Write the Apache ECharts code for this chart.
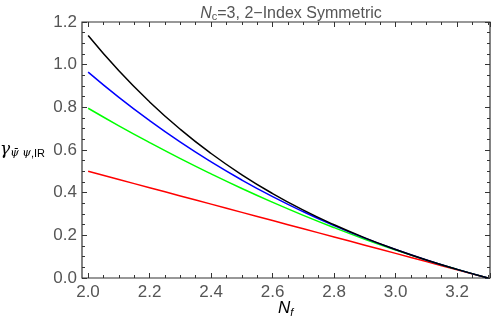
<!DOCTYPE html>
<html>
<head>
<meta charset="utf-8">
<script src="https://cdn.jsdelivr.net/npm/echarts@6/dist/echarts.min.js"></script>
<style>
html, body { margin: 0; padding: 0; background: #fff; }
#chart { width: 496px; height: 327px; }
</style>
</head>
<body>
<div id="chart"></div>
<script>
var nf = [2.0, 2.1, 2.2, 2.3, 2.4, 2.5, 2.6, 2.7, 2.8, 2.9, 3.0, 3.1, 3.2, 3.3];
// gamma values per curve (red, green, blue, black)
var redVals   = [0.500, 0.4615, 0.4231, 0.3846, 0.3462, 0.3077, 0.2692, 0.2308, 0.1923, 0.1538, 0.1154, 0.0769, 0.0385, 0];
var greenVals = [0.7958, 0.7135, 0.6349, 0.5596, 0.488, 0.4197, 0.355, 0.2938, 0.2361, 0.1818, 0.1312, 0.0839, 0.0403, 0];
var blueVals  = [0.965, 0.8466, 0.7374, 0.6366, 0.5441, 0.4591, 0.3814, 0.3104, 0.2457, 0.1867, 0.1333, 0.0845, 0.0404, 0];
var blackVals = [1.1364, 0.971, 0.8252, 0.6966, 0.5835, 0.4837, 0.3958, 0.3182, 0.2495, 0.1882, 0.1338, 0.0846, 0.0404, 0];

var frameColor = "#333";
var labelColor = "#555";

function pairs(vals) {
  return nf.map(function (x, i) { return [x, vals[i]]; });
}
function line(vals, color) {
  return {
    type: "line",
    xAxisIndex: 0,
    yAxisIndex: 0,
    data: pairs(vals),
    smooth: true,
    showSymbol: false,
    lineStyle: { color: color, width: 1.5 },
    silent: true,
    animation: false
  };
}

var myChart = echarts.init(document.getElementById("chart"));
var option = {
  animation: false,
  title: {
    text: "{i|N}{s|c}{t|=3, 2\u2212Index Symmetric}",
    left: 286,
    top: 0,
    textAlign: "center",
    textStyle: {
      fontWeight: "normal",
      rich: {
        i: { fontFamily: "Liberation Sans", fontStyle: "italic", fontWeight: "normal", fontSize: 16, color: labelColor },
        s: { fontFamily: "Liberation Sans", fontWeight: "normal", fontSize: 11, color: labelColor, verticalAlign: "bottom", padding: [6, 0, 0, 0] },
        t: { fontFamily: "Liberation Sans", fontWeight: "normal", fontSize: 16, color: labelColor }
      }
    }
  },
  grid: [
    { left: 82, top: 22, width: 408, height: 256, show: true, borderColor: frameColor, borderWidth: 1.2, backgroundColor: "transparent" },
    { left: 88, top: 22, width: 402, height: 256 }
  ],
  xAxis: [
    // data axis, padded like the original plot range
    { type: "value", gridIndex: 0, min: 1.98, max: 3.307, show: false },
    // tick axis starting at 2.0 (same scale)
    {
      type: "value", gridIndex: 1, position: "bottom", min: 2.0, max: 3.307, interval: 0.2,
      axisLine: { show: false },
      axisTick: { inside: true, length: 5, lineStyle: { color: frameColor } },
      minorTick: { show: true, splitNumber: 4, length: 3, lineStyle: { color: frameColor } },
      splitLine: { show: false },
      axisLabel: {
        showMaxLabel: false, margin: 6, color: labelColor, fontSize: 17, fontFamily: "Liberation Sans",
        formatter: function (v) { return v.toFixed(1); }
      }
    },
    {
      type: "value", gridIndex: 1, position: "top", min: 2.0, max: 3.307, interval: 0.2,
      axisLine: { show: false },
      axisTick: { inside: true, length: 5, lineStyle: { color: frameColor } },
      minorTick: { show: true, splitNumber: 4, length: 3, lineStyle: { color: frameColor } },
      splitLine: { show: false },
      axisLabel: { show: false }
    }
  ],
  yAxis: [
    {
      type: "value", gridIndex: 0, position: "left", min: 0, max: 1.2, interval: 0.2,
      axisLine: { show: false },
      axisTick: { inside: true, length: 5, lineStyle: { color: frameColor } },
      minorTick: { show: true, splitNumber: 4, length: 3, lineStyle: { color: frameColor } },
      splitLine: { show: false },
      axisLabel: {
        margin: 5, color: labelColor, fontSize: 17, fontFamily: "Liberation Sans",
        formatter: function (v) { return v.toFixed(1); }
      }
    },
    {
      type: "value", gridIndex: 0, position: "right", min: 0, max: 1.2, interval: 0.2,
      axisLine: { show: false },
      axisTick: { inside: true, length: 5, lineStyle: { color: frameColor } },
      minorTick: { show: true, splitNumber: 4, length: 3, lineStyle: { color: frameColor } },
      splitLine: { show: false },
      axisLabel: { show: false }
    },
    { type: "value", gridIndex: 1, min: 0, max: 1.2, show: false }
  ],
  graphic: [
    {
      type: "text", left: 0, top: 141,
      style: {
        text: "{g|\u03B3}{s|\u03C8\u0304 \u03C8}{r|,IR}",
        rich: {
          g: { fontFamily: "DejaVu Serif", fontStyle: "italic", fontSize: 17, color: labelColor },
          s: { fontFamily: "DejaVu Serif", fontStyle: "italic", fontSize: 11, color: labelColor, verticalAlign: "bottom", padding: [8, 0, 0, 0] },
          r: { fontFamily: "Liberation Sans", fontSize: 11, color: labelColor, verticalAlign: "bottom", padding: [8, 0, 0, 0] }
        }
      }
    },
    {
      type: "text", left: 278, top: 300,
      style: {
        text: "{n|N}{s|f}",
        rich: {
          n: { fontFamily: "Liberation Sans", fontStyle: "italic", fontSize: 17, color: labelColor },
          s: { fontFamily: "Liberation Sans", fontStyle: "italic", fontSize: 11, color: labelColor, verticalAlign: "bottom", padding: [8, 0, 0, 0] }
        }
      }
    }
  ],
  series: [
    line(redVals, "#ff0000"),
    line(greenVals, "#00ff00"),
    line(blueVals, "#0000ff"),
    line(blackVals, "#000000")
  ]
};
myChart.setOption(option);
</script>
</body>
</html>
